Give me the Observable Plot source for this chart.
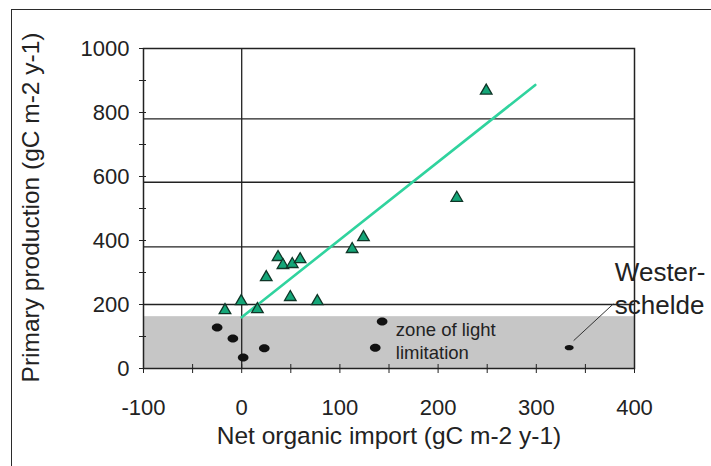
<!DOCTYPE html>
<html><head><meta charset="utf-8">
<script src="https://cdn.jsdelivr.net/npm/d3@7"></script>
<script src="https://cdn.jsdelivr.net/npm/@observablehq/plot@0.6"></script>
<style>
html,body{margin:0;padding:0;background:#fff;}
#wrap{position:relative;width:711px;height:466px;overflow:hidden;background:#fff;}
#border{position:absolute;left:11px;top:9px;width:800px;height:600px;border-top:1.5px solid #2b2b2b;border-left:1.5px solid #2b2b2b;}
#chart{position:absolute;left:0;top:0;}
</style></head><body>
<div id="wrap"><div id="border"></div><div id="chart"></div></div>
<script>
// Triangles (productive systems)
const triImport     = [249, 219, 124, 112.5, 37, 42, 51.5, 59.5, 25, 49.5, 77, -0.5, -17, 16];
const triProduction = [868, 533, 410, 373, 348, 323, 326, 341, 285, 223, 210, 210, 182, 185];
// Black dots (light-limited systems)
const lightImport     = [-25, -9, 1.5, 23, 136, 143];
const lightProduction = [128, 94, 34, 63, 65, 147];
// Westerschelde
const westImport = [333.5];
const westProduction = [65];
// Regression line end points
const fitImport = [0, 299];
const fitProduction = [160, 886];
// Zone of light limitation
const zoneImport = [-100, 400];
const zoneProduction = [0, 162];
// Leader line for Westerschelde label
const leaderImport = [338, 378.5];
const leaderProduction = [87, 202];
// Axes
const xMajor = [-100, 0, 100, 200, 300, 400];
const xMinor = [-50, 50, 150, 250, 350];
const yMajor = [0, 200, 400, 600, 800, 1000];
const yMinor = [100, 300, 500, 700, 900];
const gridY = [200, 380, 582, 780];
const xTitle = "Net organic import (gC m-2 y-1)";
const yTitle = "Primary production (gC m-2 y-1)";
const zoneLabel = "zone of light\nlimitation";
const zoneLabelAt = [157, 30];
const westLabel = "Wester-\nschelde";
const westLabelAt = [380, 171];

const tri = triImport.map((x, i) => ({x, y: triProduction[i]}));
const light = lightImport.map((x, i) => ({x, y: lightProduction[i]}));
const west = westImport.map((x, i) => ({x, y: westProduction[i]}));
const fit = fitImport.map((x, i) => ({x, y: fitProduction[i]}));
const zone = [{x1: zoneImport[0], x2: zoneImport[1], y1: zoneProduction[0], y2: zoneProduction[1]}];
const leader = [{x1: leaderImport[0], x2: leaderImport[1], y1: leaderProduction[0], y2: leaderProduction[1]}];

const ellipse = (sx, sy) => ({
  draw(ctx, size) {
    const r = Math.sqrt(size / Math.PI), a = r * sx, b = r * sy, k = 0.5523;
    ctx.moveTo(a, 0);
    ctx.bezierCurveTo(a, b * k, a * k, b, 0, b);
    ctx.bezierCurveTo(-a * k, b, -a, b * k, -a, 0);
    ctx.bezierCurveTo(-a, -b * k, -a * k, -b, 0, -b);
    ctx.bezierCurveTo(a * k, -b, a, -b * k, a, 0);
    ctx.closePath();
  }
});

const ink = "#222";
const plain = d => String(d);
const chart = Plot.plot({
  width: 711, height: 466,
  marginLeft: 143, marginRight: 77, marginTop: 48, marginBottom: 98,
  x: {domain: [-100, 400]},
  y: {domain: [0, 1000]},
  style: {fontFamily: "'Liberation Sans', Arial, sans-serif", background: "transparent", color: ink, overflow: "visible"},
  marks: [
    Plot.rect(zone, {x1: "x1", x2: "x2", y1: "y1", y2: "y2", fill: "#c6c6c6"}),
    Plot.ruleY(gridY, {stroke: ink, strokeWidth: 1.3}),
    Plot.ruleX([0], {stroke: ink, strokeWidth: 1.3}),
    Plot.frame({stroke: ink, strokeWidth: 1.5}),
    Plot.line(fit, {x: "x", y: "y", stroke: "#30d39e", strokeWidth: 2.6}),
    Plot.dot(light, {x: "x", y: "y", r: 5, symbol: ellipse(1.07, 0.8), fill: "#111", stroke: "none"}),
    Plot.dot(west, {x: "x", y: "y", r: 4, symbol: ellipse(1.12, 0.65), fill: "#111", stroke: "none"}),
    Plot.dot(tri, {x: "x", y: "y", r: 4.3, symbol: "triangle", fill: "#14a678", stroke: "#0f3527", strokeWidth: 1.3}),
    Plot.link(leader, {x1: "x1", y1: "y1", x2: "x2", y2: "y2", stroke: "#333", strokeWidth: 1}),
    Plot.text([zoneLabel], {x: zoneLabelAt[0], y: zoneLabelAt[1], text: d => d, fontSize: 18.5, textAnchor: "start", lineAnchor: "bottom", lineHeight: 1.26, fill: ink}),
    Plot.text([westLabel], {x: westLabelAt[0], y: westLabelAt[1], text: d => d, fontSize: 26, textAnchor: "start", lineAnchor: "bottom", lineHeight: 1.26, fill: ink}),
    Plot.axisY(yMajor, {tickSize: 0, tickPadding: 14, fontSize: 22, label: null, fill: ink, tickFormat: plain}),
    Plot.axisY([...yMajor, ...yMinor], {tickSize: 7, dx: 3, fill: "none", label: null, stroke: ink}),
    Plot.axisX(xMajor, {tickSize: 0, tickPadding: 31, fontSize: 22, label: null, fill: ink, tickFormat: plain}),
    Plot.axisX([...xMajor, ...xMinor], {tickSize: 9, dy: -4, fill: "none", label: null, stroke: ink}),
    Plot.text([xTitle], {frameAnchor: "bottom", dy: 68, text: d => d, fontSize: 24.5, lineAnchor: "middle", textAnchor: "middle", fill: ink}),
    Plot.text([yTitle], {frameAnchor: "left", dx: -112, dy: -1, rotate: -90, text: d => d, fontSize: 24.5, lineAnchor: "middle", textAnchor: "middle", fill: ink})
  ]
});
document.getElementById("chart").appendChild(chart);
</script>
</body></html>
